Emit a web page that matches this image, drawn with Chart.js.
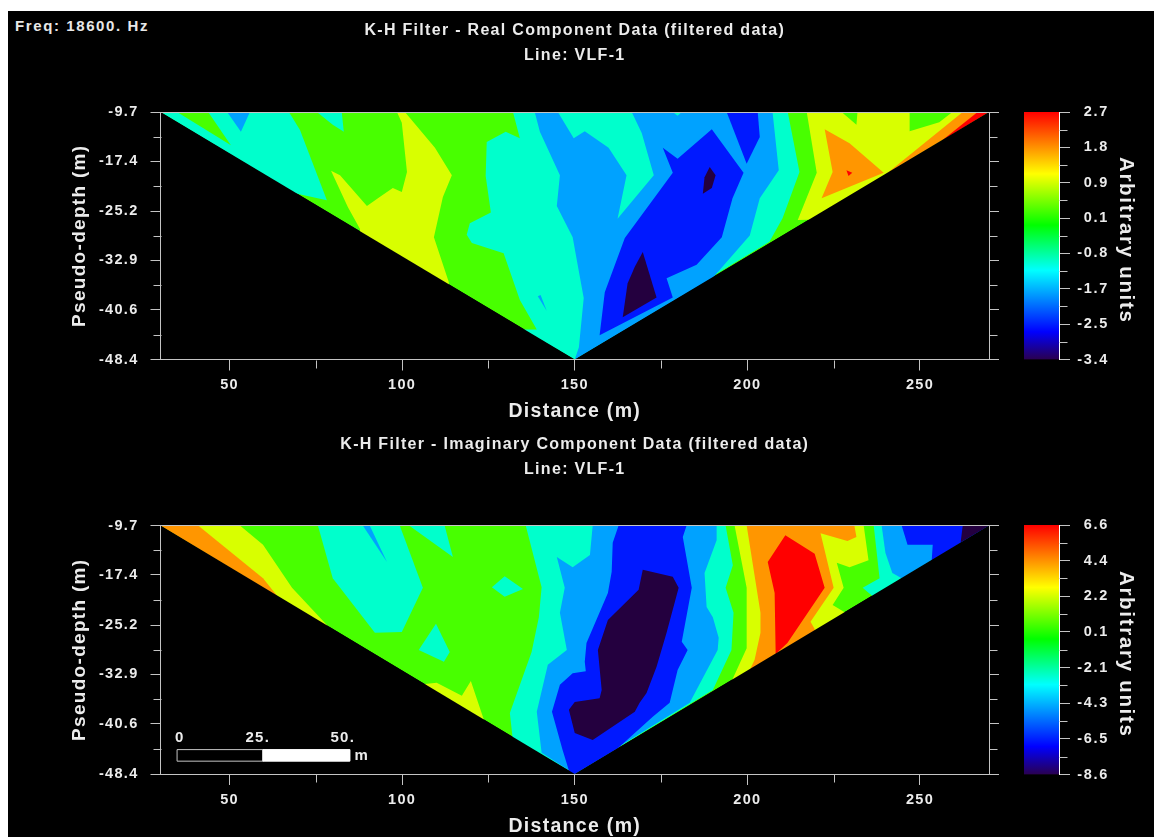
<!DOCTYPE html>
<html>
<head>
<meta charset="utf-8">
<title>K-H Filter</title>
<script src="https://cdn.jsdelivr.net/npm/chart.js@4"></script>
<style>
  html, body { margin: 0; padding: 0; background: #fff; overflow: hidden; }
  #sheet { position: absolute; left: 8px; top: 11px; width: 1146px; height: 826px; background: #000; }
  canvas { position: absolute; }
  #freq { position: absolute; left: 15px; top: 17px; color: #e8e8e8; font: bold 15px "Liberation Sans"; letter-spacing: 1.6px; white-space: pre; }
</style>
</head>
<body>
<div id="sheet"></div>
<div id="freq">Freq: 18600. Hz</div>
<canvas id="realChart" width="1002" height="414" style="left:8px;top:11px"></canvas>
<canvas id="imagChart" width="1002" height="405" style="left:8px;top:432px"></canvas>
<canvas id="realBar" width="138" height="270" style="left:1016px;top:100px"></canvas>
<canvas id="imagBar" width="138" height="272" style="left:1016px;top:513px"></canvas>
<script>
// axis values
const distanceTicks = [50, 100, 150, 200, 250];
const depthTicks = [-9.7, -17.4, -25.2, -32.9, -40.6, -48.4];
const realBarLabels = ["2.7", "1.8", "0.9", "0.1", "-0.8", "-1.7", "-2.5", "-3.4"];
const imagBarLabels = ["6.6", "4.4", "2.2", "0.1", "-2.1", "-4.3", "-6.5", "-8.6"];
const realBarRange = [-3.4, 2.7];
const imagBarRange = [-8.6, 6.6];

// survey footprint, everything outside the inverted triangle has no data
const footprint = [[30, -9.7], [270, -9.7], [150, -48.4]];
const maskLeft = [[30, -9.7], [150, -48.4], [30, -48.4]];
const maskRight = [[270, -9.7], [270, -48.4], [150, -48.4]];

// real component contours, [distance, depth]
const realCyanWest = [[30, -9.7], [67.2, -9.7], [70.4, -12.5], [78.2, -23.5], [68.9, -22.4]];
const realGreenWedge = [[34.8, -9.7], [43.8, -9.7], [50.4, -14.9]];
const realBlueTip = [[49.3, -9.7], [55.9, -9.7], [53.3, -12.8]];
const realCyanNotch = [[75.3, -9.7], [82.5, -9.7], [83.1, -12.8], [79.9, -11.7]];
const realLimeWest = [[98.5, -9.7], [100.8, -9.7], [109.5, -15.3], [114.4, -19.6], [111.8, -23], [109.2, -29.3], [113.5, -36.3], [113.5, -38], [87.8, -30], [87.8, -28], [84.3, -24.6], [79.4, -18.9], [82, -19.6], [89.8, -24.4], [93.5, -23], [97.3, -21.6], [99.9, -22.2], [101.4, -19.1], [99.9, -11.4]];
const realCyanMid = [[132.1, -9.7], [134.1, -13.8], [130, -12.8], [124.5, -14.4], [124.2, -19.7], [125.7, -25.4], [119.6, -27.1], [118.7, -28.9], [120.2, -30.2], [129.4, -31.8], [134.1, -39.1], [139, -43.7], [135, -43.7], [150, -48.4], [206.4, -30], [210.2, -26.3], [215.1, -19.1], [211.7, -9.7]];
const realSkyMid = [[138.4, -9.7], [139.9, -12.8], [145.7, -19.6], [144.8, -24.4], [149.4, -29.3], [150.6, -32.9], [152.6, -38.8], [151.2, -46.5], [150, -48.4], [190, -35.6], [200.7, -29], [203.6, -23.2], [209.1, -18.8], [207.3, -9.7]];
const realSkySliver = [[139.3, -38.5], [140.1, -38.3], [141.9, -40.8]];
const realCyanInner = [[145.1, -9.7], [149.7, -13.8], [152.9, -12.7], [159.8, -15.3], [165, -19.6], [162.4, -26.4], [172.9, -19.6], [169.4, -13], [166.5, -9.7]];
const realCyanTop = [[178.4, -9.7], [179.8, -10.3], [181, -9.7]];
const realBlueBody = [[175.5, -15.3], [179.8, -17], [189.7, -12.4], [198.9, -19.2], [195.7, -23.2], [192.6, -29.3], [185.3, -33.6], [176.6, -35.7], [178.4, -38.7], [157.2, -44.6], [158.7, -37.9], [164.5, -29.4], [178.4, -19.2]];
const realBlueTop = [[194, -9.7], [203, -9.7], [203.6, -13.6], [199.8, -17.8]];
const realLowSouth = [[169.7, -31.6], [173.7, -38.7], [163.9, -41.8], [165.3, -36.5], [167.4, -33.9]];
const realLowNorth = [[189.1, -18.3], [190.8, -19.6], [189.7, -21.6], [187.1, -22.5], [187.6, -19.9]];
const realLimeEast = [[217.2, -9.7], [220.1, -19.2], [214.6, -26.6], [220, -26.5], [270, -9.7]];
const realGreenTopA = [[227.3, -9.7], [231.9, -9.7], [231.6, -11.7]];
const realGreenTopB = [[247, -9.7], [259.4, -9.7], [255.6, -11.3], [247, -12.7]];
const realOrangeBody = [[222.4, -12.4], [229.6, -14.6], [239.5, -19.2], [221.5, -23.2], [224.7, -19.1]];
const realRedDot = [[228.7, -18.8], [230.4, -19.2], [229.3, -19.7]];
const realOrangeEdge = [[240.4, -19.3], [262.4, -9.7], [270, -9.7]];
const realRedEdge = [[266.7, -9.7], [270, -9.7], [256.3, -14.2]];

// imaginary component contours, [distance, depth]
const imagLimeWest = [[30, -9.7], [53, -9.7], [59.7, -12.7], [68.1, -19.4], [79.6, -26]];
const imagOrangeWest = [[30, -9.7], [40.9, -9.7], [59.7, -17.9], [64, -20.8]];
const imagCyanA = [[75.6, -9.7], [79.9, -17.9], [92.1, -26.4], [99.9, -26.3], [106, -19.4], [99.3, -9.7]];
const imagSkySliver = [[88.6, -9.7], [90.6, -9.7], [95.6, -15.4]];
const imagCyanB = [[102, -9.7], [112.3, -9.7], [114.7, -14.6]];
const imagCyanC = [[109.8, -25], [113.8, -29.4], [112.1, -30.9], [104.8, -29.1]];
const imagCyanD = [[129.7, -17.6], [135, -19.6], [129.7, -20.8], [126, -19.3]];
const imagLimeSouth = [[106.6, -34.4], [110, -34.2], [117.3, -36.2], [119.9, -33.9], [123.7, -40], [115, -39]];
const imagCyanMid = [[135.8, -9.7], [140.4, -19.3], [139.6, -24], [137.5, -29.4], [131.2, -38.9], [132, -42.8], [150, -48.4], [190, -35.3], [195.4, -29.1], [196, -23.3], [193.7, -19.4], [195.8, -15.9], [193.7, -9.7]];
const imagSkyMid = [[155.2, -9.7], [154.4, -14.3], [149.4, -16.2], [144.8, -14.6], [147.1, -19.4], [145.7, -23.3], [147.7, -29.1], [142.2, -31.4], [139, -38.7], [140.4, -45.1], [150, -48.4], [183.3, -37.3], [191.4, -29.1], [191.7, -27.2], [190, -24], [188.2, -22.4], [187.6, -17.1], [191.1, -12], [191.1, -9.7]];
const imagBlueMid = [[162.7, -9.7], [161, -12.4], [160.7, -16.9], [159.6, -20.2], [153.4, -28], [152.9, -30.9], [153.2, -32.4], [149.4, -32.7], [145.7, -34.5], [143.4, -38.7], [146.5, -44.7], [148.5, -48.2], [150, -48.4], [162.5, -44.4], [172.6, -39.5], [177.5, -37.3], [179.8, -32.2], [182.7, -29.1], [181, -27.8], [183.9, -19.4], [181.3, -11.5], [182.4, -9.7]];
const imagLowMid = [[169.7, -16.6], [178.4, -17.7], [180.1, -19.4], [176.6, -26.4], [173.7, -31.7], [170.8, -35.8], [168.8, -37.3], [167.4, -38.7], [155.2, -43.1], [150, -42], [148.3, -38.4], [150, -37.2], [157.2, -36.6], [157.8, -35.3], [156.7, -29.1], [159.6, -24.4], [168.5, -19.7]];
const imagLimeEast = [[196.3, -9.7], [199.8, -19.4], [199.8, -28.8], [195.4, -34], [193.1, -35.3], [229.6, -23.6], [228.2, -23.2], [224.7, -22.1], [227.9, -19.4], [225.9, -15.5], [229.6, -16.2], [235.1, -15.1], [233.7, -9.7]];
const imagOrangeEast = [[199.8, -9.7], [203.8, -23.3], [203.8, -26.4], [202.1, -30.6], [200.7, -32.2], [219.5, -26.7], [219.5, -25.8], [218.3, -24.7], [225, -19.4], [221.2, -10.9], [229, -12.1], [231.6, -11.5], [231, -9.7]];
const imagRedEast = [[211, -11.2], [219.5, -14.1], [222.4, -19.4], [211.6, -28], [208.2, -29.7], [207.9, -20.2], [205.9, -15.4]];
const imagCyanEast = [[236.6, -9.7], [238.3, -17.9], [233.4, -19.4], [236.3, -20.7], [270, -9.7]];
const imagSkyEast = [[238.9, -9.7], [240, -14], [242, -17.1], [244.7, -17.9], [270, -9.7]];
const imagBlueEast = [[244.7, -9.7], [246.4, -12.7], [253.7, -12.7], [253.4, -15.2], [270, -9.7]];
const imagLowEast = [[262.4, -9.7], [270, -9.7], [261.8, -12.3]];

// scale bar, in the same metres as the section
const scaleBarOpen = [[34.8, -44.6], [59.7, -44.6], [59.7, -46.4], [34.8, -46.4], [34.8, -44.6]];
const scaleBarSolid = [[59.7, -44.6], [84.8, -44.6], [84.8, -46.4], [59.7, -46.4], [59.7, -44.6]];
const scaleBarText = ["0", "25.", "50.", "m"];
const scaleBarTextX = [35.6, 58.2, 82.8, 88.3];
const scaleBarTextY = [-42.7, -42.7, -42.7, -45.5];

const LOW = "#24003f", BLUE = "#0019ff", SKY = "#00a2ff", CYAN = "#00ffcc";
const GREEN = "#48ff00", LIME = "#d8ff00", ORANGE = "#ff9600", RED = "#ff0000";
const AXIS = "#c4c4c4", TEXT = "#ececec";
const FONT = "Liberation Sans";

// painted in this order, later entries cover earlier ones
const realBands = [
  [footprint, GREEN], [realCyanWest, CYAN], [realGreenWedge, GREEN], [realBlueTip, SKY], [realCyanNotch, CYAN],
  [realLimeWest, LIME], [realCyanMid, CYAN], [realSkyMid, SKY], [realSkySliver, SKY], [realCyanInner, CYAN],
  [realCyanTop, CYAN], [realBlueBody, BLUE], [realBlueTop, BLUE], [realLowSouth, LOW], [realLowNorth, LOW],
  [realLimeEast, LIME], [realGreenTopA, GREEN], [realGreenTopB, GREEN], [realOrangeBody, ORANGE], [realRedDot, RED],
  [realOrangeEdge, ORANGE], [realRedEdge, RED], [maskLeft, "#000"], [maskRight, "#000"],
];

const imagBands = [
  [footprint, GREEN], [imagLimeWest, LIME], [imagOrangeWest, ORANGE], [imagCyanA, CYAN], [imagSkySliver, SKY],
  [imagCyanB, CYAN], [imagCyanC, CYAN], [imagCyanD, CYAN], [imagLimeSouth, LIME], [imagCyanMid, CYAN],
  [imagSkyMid, SKY], [imagBlueMid, BLUE], [imagLowMid, LOW], [imagLimeEast, LIME], [imagOrangeEast, ORANGE],
  [imagRedEast, RED], [imagCyanEast, CYAN], [imagSkyEast, SKY], [imagBlueEast, BLUE], [imagLowEast, LOW],
  [maskLeft, "#000"], [maskRight, "#000"],
];

function bandDataset(band) {
  return {
    data: band[0].map((p) => ({ x: p[0], y: p[1] })),
    showLine: true,
    fill: "shape",
    backgroundColor: band[1],
    borderWidth: 0,
    pointRadius: 0,
  };
}

function spacedText(px) {
  return {
    id: "spacedText",
    beforeDraw(chart) {
      chart.ctx.letterSpacing = px + "px";
    },
  };
}

// short ticks half way between the labelled ones
const minorTicks = {
  id: "minorTicks",
  afterDraw(chart) {
    const ctx = chart.ctx;
    ctx.save();
    ctx.strokeStyle = AXIS;
    ctx.lineWidth = 1;
    Object.values(chart.scales).forEach((scale) => {
      if (!scale.options.grid.display || !scale.options.grid.drawTicks) return;
      for (let i = 1; i < scale.ticks.length; i++) {
        const mid = (scale.ticks[i - 1].value + scale.ticks[i].value) / 2;
        const p = Math.round(scale.getPixelForValue(mid)) + 0.5;
        const edge = Math.round(scale.position === "left" ? scale.right : scale.position === "right" ? scale.left : scale.top) + 0.5;
        ctx.beginPath();
        if (scale.isHorizontal()) {
          ctx.moveTo(p, edge);
          ctx.lineTo(p, edge + 8);
        } else {
          ctx.moveTo(edge, p);
          ctx.lineTo(edge + (scale.position === "left" ? -8 : 8), p);
        }
        ctx.stroke();
      }
    });
    ctx.restore();
  },
};

const scaleBarLabels = {
  id: "scaleBarLabels",
  afterDraw(chart) {
    const ctx = chart.ctx;
    ctx.save();
    ctx.fillStyle = TEXT;
    ctx.font = "bold 15px '" + FONT + "'";
    ctx.textAlign = "center";
    ctx.textBaseline = "middle";
    scaleBarText.forEach((t, i) => {
      ctx.fillText(t, chart.scales.x.getPixelForValue(scaleBarTextX[i]), chart.scales.y.getPixelForValue(scaleBarTextY[i]));
    });
    ctx.restore();
  },
};

// the unit title sits a little below the middle of the colour bar
const nudgeUnitTitle = {
  id: "nudgeUnitTitle",
  afterLayout(chart) {
    chart.scales.yTitle.top += 9;
  },
};

function sectionChart(id, titleLines, bands, titleTop, titleBottom, xHeight, xTitlePad, topSets, extraPlugins) {
  // Chart.js paints the first dataset last, so the list goes in backwards
  const datasets = topSets.concat(bands.map(bandDataset).reverse());
  new Chart(document.getElementById(id), {
    type: "scatter",
    data: { datasets: datasets },
    options: {
      responsive: false,
      animation: false,
      layout: { padding: { right: 11 } },
      plugins: {
        legend: { display: false },
        tooltip: { enabled: false },
        title: {
          display: true,
          fullSize: false,
          text: titleLines,
          color: TEXT,
          font: { family: FONT, size: 16, weight: "bold", lineHeight: 25 / 16 },
          padding: { top: titleTop, bottom: titleBottom },
        },
      },
      scales: {
        x: {
          type: "linear",
          position: "bottom",
          min: 30,
          max: 270,
          afterBuildTicks: (s) => { s.ticks = distanceTicks.map((v) => ({ value: v })); },
          afterFit: (s) => { s.height = xHeight; },
          grid: { drawOnChartArea: false, tickLength: 11, color: AXIS },
          border: { color: AXIS, z: 1 },
          ticks: { color: TEXT, font: { family: FONT, size: 14.5, weight: "bold" }, padding: 6, autoSkip: false, maxRotation: 0, callback: (v) => String(v) },
          title: { display: true, text: "Distance (m)", color: TEXT, font: { family: FONT, size: 19.5, weight: "bold" }, padding: { top: 0, bottom: xTitlePad } },
        },
        xTop: {
          type: "linear",
          position: "top",
          min: 30,
          max: 270,
          afterFit: (s) => { s.height = 0; },
          grid: { display: false },
          border: { color: AXIS, z: 1 },
          ticks: { display: false },
        },
        y: {
          type: "linear",
          position: "left",
          min: -48.4,
          max: -9.7,
          afterBuildTicks: (s) => { s.ticks = depthTicks.map((v) => ({ value: v })); },
          afterFit: (s) => { s.width = 152.5; },
          grid: { drawOnChartArea: false, tickLength: 10, color: AXIS },
          border: { color: AXIS, z: 1 },
          ticks: { color: TEXT, font: { family: FONT, size: 14.5, weight: "bold" }, padding: 12, autoSkip: false, callback: (v) => v.toFixed(1) },
          title: { display: true, text: "Pseudo-depth (m)", color: TEXT, font: { family: FONT, size: 19, weight: "bold" }, padding: { top: 60, bottom: 0 } },
        },
        yRight: {
          type: "linear",
          position: "right",
          min: -48.4,
          max: -9.7,
          afterBuildTicks: (s) => { s.ticks = depthTicks.map((v) => ({ value: v })); },
          afterFit: (s) => { s.width = 10; },
          grid: { drawOnChartArea: false, tickLength: 10, color: AXIS },
          border: { color: AXIS, z: 1 },
          ticks: { display: false },
        },
      },
    },
    plugins: [spacedText(1.3), minorTicks].concat(extraPlugins),
  });
}

function colourBar(id, range, labels) {
  const step = (range[1] - range[0]) / (labels.length - 1);
  new Chart(document.getElementById(id), {
    type: "bar",
    data: {
      labels: [""],
      datasets: [{
        data: [range],
        categoryPercentage: 1,
        barPercentage: 1,
        borderWidth: 0,
        backgroundColor: (c) => {
          const area = c.chart.chartArea;
          if (!area) return "#000";
          const g = c.chart.ctx.createLinearGradient(0, area.top, 0, area.bottom);
          g.addColorStop(0, "#ff0000");
          g.addColorStop(0.25, "#ffff00");
          g.addColorStop(0.457, "#00ff00");
          g.addColorStop(0.64, "#00ffff");
          g.addColorStop(0.888, "#0000ff");
          g.addColorStop(1, "#2a0050");
          return g;
        },
      }],
    },
    options: {
      responsive: false,
      animation: false,
      layout: { padding: { left: 8, top: 12, bottom: 10.5 } },
      plugins: { legend: { display: false }, tooltip: { enabled: false } },
      scales: {
        x: { display: false },
        y: {
          type: "linear",
          position: "right",
          min: range[0],
          max: range[1],
          afterBuildTicks: (s) => { s.ticks = labels.map((l, i) => ({ value: range[1] - i * step })); },
          afterFit: (s) => { s.width = 50; s.paddingTop = 0; s.paddingBottom = 0; },
          grid: { drawOnChartArea: false, tickLength: 11, color: AXIS },
          border: { color: "#ffffff", z: 1 },
          ticks: { color: TEXT, font: { family: FONT, size: 14.5, weight: "bold" }, padding: 8, autoSkip: false, crossAlign: "far", callback: (v, i) => labels[i] },
        },
        yTitle: {
          type: "linear",
          position: "right",
          weight: 1,
          min: range[0],
          max: range[1],
          afterFit: (s) => { s.width = 45; s.paddingTop = 0; s.paddingBottom = 0; },
          grid: { display: false },
          border: { display: false },
          ticks: { display: false },
          title: { display: true, text: "Arbitrary units", color: TEXT, font: { family: FONT, size: 20.5, weight: "bold" }, padding: { top: 16, bottom: 0 } },
        },
      },
    },
    plugins: [spacedText(1.7), minorTicks, nudgeUnitTitle],
  });
}

const scaleBarSets = [
  { data: scaleBarSolid.map((p) => ({ x: p[0], y: p[1] })), showLine: true, fill: "shape", backgroundColor: "#fff", borderColor: "#fff", borderWidth: 1, pointRadius: 0 },
  { data: scaleBarOpen.map((p) => ({ x: p[0], y: p[1] })), showLine: true, fill: "shape", backgroundColor: "#000", borderColor: AXIS, borderWidth: 1, pointRadius: 0 },
];

sectionChart("realChart", ["K-H Filter - Real Component Data (filtered data)", "Line: VLF-1"], realBands, 7.5, 43.5, 65.5, 2, [], []);
sectionChart("imagChart", ["K-H Filter - Imaginary Component Data (filtered data)", "Line: VLF-1"], imagBands, 0, 43.5, 63, -1, scaleBarSets, [scaleBarLabels]);

colourBar("realBar", realBarRange, realBarLabels);
colourBar("imagBar", imagBarRange, imagBarLabels);
</script>
</body>
</html>
